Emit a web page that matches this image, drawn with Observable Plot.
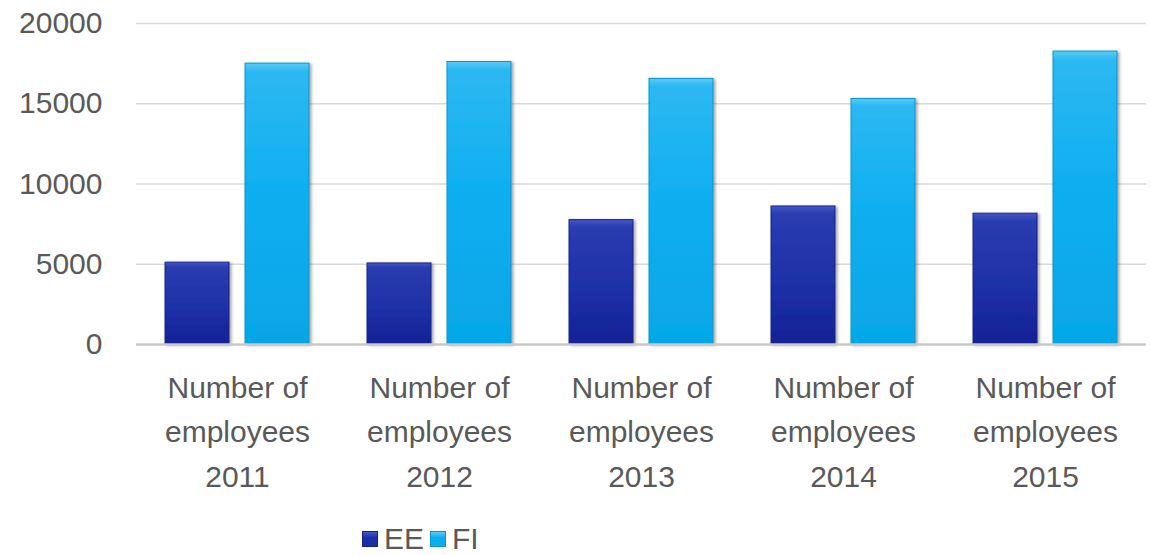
<!DOCTYPE html>
<html>
<head>
<meta charset="utf-8">
<script src="https://cdn.jsdelivr.net/npm/d3@7"></script>
<script src="https://cdn.jsdelivr.net/npm/@observablehq/plot@0.6"></script>
<style>
  html, body { margin: 0; padding: 0; background: #fff; }
  #wrap { position: relative; width: 1151px; height: 555px; font-family: "Liberation Sans", Arial, sans-serif; }
  #legend { position: absolute; left: 362px; top: 524px; height: 30px; display: flex; align-items: center; font-size: 30px; line-height: 30px; color: #595959; }
  #legend .sw { width: 16px; height: 16px; margin-right: 6px; box-sizing: border-box; }
  #legend .item { display: flex; align-items: center; margin-right: 6px; }
</style>
</head>
<body>
<div id="wrap"><div id="chart"></div><div id="legend"></div></div>
<script>
const categories = ["2011", "2012", "2013", "2014", "2015"];
const categoryLabel = "Number of\nemployees";
const seriesNames = ["EE", "FI"];
const eeValues = [5100, 5050, 7750, 8600, 8150];
const fiValues = [17500, 17600, 16550, 15300, 18250];
const yTicks = [0, 5000, 10000, 15000, 20000];

const seriesFill = { EE: "url(#gradEE)", FI: "url(#gradFI)" };
const seriesStroke = { EE: "#15238f", FI: "#0a94d0" };

const rows = [];
categories.forEach((c, i) => {
  rows.push({ cat: c, series: "EE", value: eeValues[i] });
  rows.push({ cat: c, series: "FI", value: fiValues[i] });
});

const defs = () => {
  const d = d3.create("svg:defs");
  const g1 = d.append("linearGradient").attr("id", "gradEE").attr("x1", 0).attr("x2", 0).attr("y1", 0).attr("y2", 1);
  g1.append("stop").attr("offset", "0%").attr("stop-color", "#4658c4");
  g1.append("stop").attr("offset", "6%").attr("stop-color", "#2a3cb0");
  g1.append("stop").attr("offset", "60%").attr("stop-color", "#1d2fa6");
  g1.append("stop").attr("offset", "100%").attr("stop-color", "#142195");
  const g2 = d.append("linearGradient").attr("id", "gradFI").attr("x1", 0).attr("x2", 0).attr("y1", 0).attr("y2", 1);
  g2.append("stop").attr("offset", "0%").attr("stop-color", "#5ccaf6");
  g2.append("stop").attr("offset", "3%").attr("stop-color", "#2cb8f2");
  g2.append("stop").attr("offset", "50%").attr("stop-color", "#0caef0");
  g2.append("stop").attr("offset", "100%").attr("stop-color", "#06a6e6");
  const f = d.append("filter").attr("id", "shadow").attr("x", "-10%").attr("y", "-10%").attr("width", "130%").attr("height", "130%");
  f.append("feDropShadow").attr("dx", 2).attr("dy", 1).attr("stdDeviation", 1.5).attr("flood-color", "#000").attr("flood-opacity", 0.35);
  return d.node();
};

const chart = Plot.plot({
  width: 1151,
  height: 522,
  marginLeft: 134,
  marginRight: 3,
  marginTop: 23,
  marginBottom: 178,
  style: { fontFamily: "Liberation Sans, Arial, sans-serif", color: "#595959", background: "#fff" },
  fx: { domain: categories, padding: 0, label: null },
  x: { domain: seriesNames, paddingInner: 0.1975, paddingOuter: 0.36, axis: null },
  y: { domain: [0, 20000], ticks: yTicks, label: null },
  marks: [
    defs,
    Plot.gridY(yTicks.filter(t => t > 0), { stroke: "#d9d9d9", strokeOpacity: 1, strokeWidth: 1.5 }),
    Plot.axisY(yTicks, { tickSize: 0, tickPadding: 34, fontSize: 30, fill: "#595959", tickFormat: d => String(d), label: null }),
    Plot.axisFx({ anchor: "bottom", tickSize: 0, tickPadding: 22, fontSize: 30, lineHeight: 1.48, fill: "#595959", tickFormat: d => categoryLabel + "\n" + d, label: null }),
    Plot.barY(rows, {
      fx: "cat",
      x: "series",
      y: "value",
      fill: d => seriesFill[d.series],
      stroke: d => seriesStroke[d.series],
      strokeWidth: 1
    }),
    Plot.ruleY([0], { stroke: "#c8c8c8", strokeWidth: 2.5 })
  ]
});
chart.querySelectorAll("g[aria-label='bar'] rect").forEach(r => r.setAttribute("filter", "url(#shadow)"));
document.getElementById("chart").appendChild(chart);

const legend = document.getElementById("legend");
const legendColors = { EE: ["#4658c4", "#1d2fa6", "#15238f"], FI: ["#5ccaf6", "#0caef0", "#0a94d0"] };
seriesNames.forEach(s => {
  const item = document.createElement("div");
  item.className = "item";
  const sw = document.createElement("div");
  sw.className = "sw";
  const c = legendColors[s];
  sw.style.background = `linear-gradient(${c[0]}, ${c[1]} 40%, ${c[1]})`;
  sw.style.border = `1px solid ${c[2]}`;
  const t = document.createElement("span");
  t.textContent = s;
  item.appendChild(sw);
  item.appendChild(t);
  legend.appendChild(item);
});
</script>
</body>
</html>
